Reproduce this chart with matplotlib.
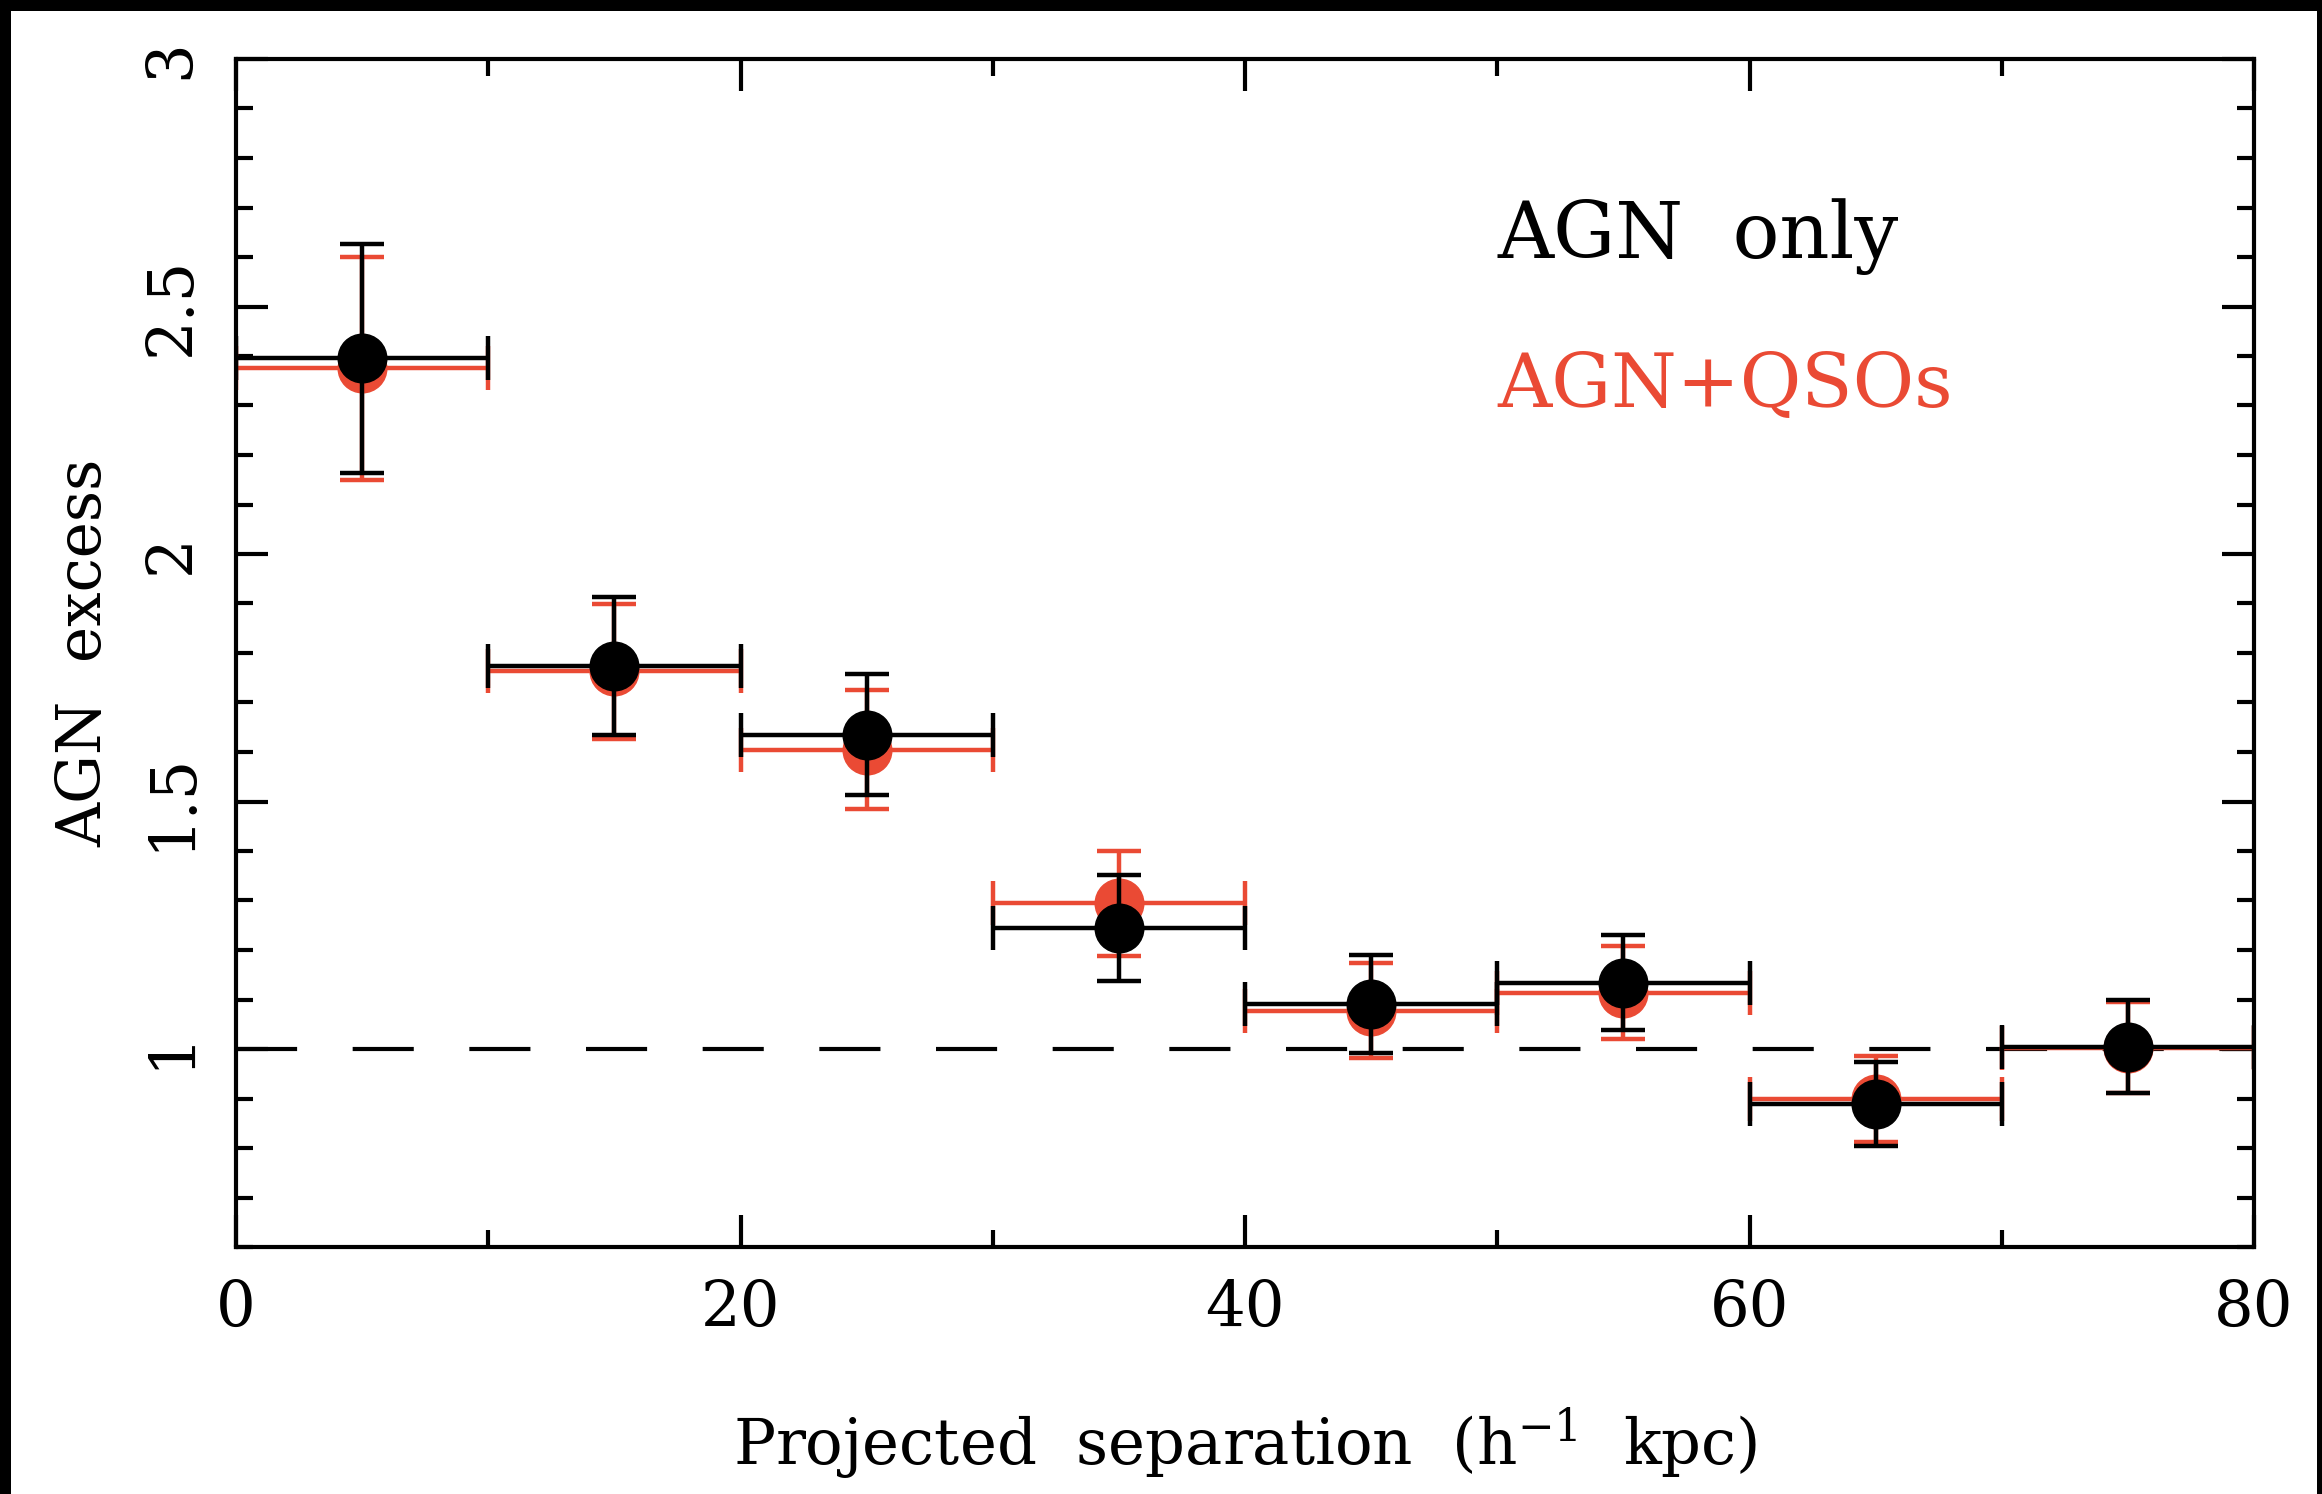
import numpy as np
import matplotlib
matplotlib.use("Agg")
import matplotlib.pyplot as plt
from matplotlib.patches import Rectangle
from matplotlib.ticker import MultipleLocator, FixedLocator, FuncFormatter

# bins of projected separation (h^-1 kpc)
bin_edges = [0, 10, 20, 30, 40, 50, 60, 70, 80]

# AGN only (black)
agn_only = [2.395, 1.774, 1.635, 1.244, 1.091, 1.134, 0.889, 1.005]
agn_only_err = [0.232, 0.140, 0.122, 0.107, 0.099, 0.096, 0.085, 0.093]

# AGN + QSOs (red)
agn_qso = [2.375, 1.763, 1.605, 1.294, 1.077, 1.114, 0.899, 1.003]
agn_qso_err = [0.225, 0.137, 0.120, 0.107, 0.096, 0.094, 0.086, 0.092]

x_ticks = [0, 20, 40, 60, 80]
y_ticks = [1, 1.5, 2, 2.5, 3]

RED = "#EA4A34"
FONT = "DejaVu Serif"

plt.rcParams["font.family"] = FONT
plt.rcParams["mathtext.fontset"] = "dejavuserif"
plt.rcParams["lines.scale_dashes"] = False

edges = np.array(bin_edges, dtype=float)
centers = 0.5 * (edges[:-1] + edges[1:])
half_w = 0.5 * np.diff(edges)

W, H = 2322, 1494
fig = plt.figure(figsize=(W / 100, H / 100), dpi=100, facecolor="black")
# white page inside the black frame
fig.add_artist(Rectangle((11 / W, 0), 1 - 16 / W, 1 - 11 / H,
                         transform=fig.transFigure, facecolor="white",
                         edgecolor="none", zorder=-10))

ax = fig.add_axes([236 / W, 1 - 1247 / H, 2018 / W, 1188 / H])
ax.set_xlim(0, 80)
ax.set_ylim(0.6, 3)

# reference line at 1
ax.axhline(1.0, color="black", lw=3, dashes=(44, 40), zorder=1)

common = dict(fmt="o", ms=35, elinewidth=3.2, capsize=15.5, capthick=3.2)
ax.errorbar(centers, agn_qso, xerr=half_w, yerr=agn_qso_err, color=RED,
            mec=RED, mfc=RED, zorder=2, **common)
ax.errorbar(centers, agn_only, xerr=half_w, yerr=agn_only_err, color="black",
            mec="black", mfc="black", zorder=3, **common)

# axes styling
for s in ax.spines.values():
    s.set_linewidth(3)
ax.xaxis.set_major_locator(FixedLocator(x_ticks))
ax.xaxis.set_minor_locator(MultipleLocator(10))
ax.yaxis.set_major_locator(FixedLocator(y_ticks))
ax.yaxis.set_minor_locator(MultipleLocator(0.1))
ax.yaxis.set_major_formatter(FuncFormatter(lambda v, p: f"{v:g}"))
ax.tick_params(which="both", direction="in", top=True, right=True, width=3)
ax.tick_params(which="major", length=23)
ax.tick_params(which="minor", length=12)
ax.tick_params(axis="x", labelsize=45, pad=23)
ax.tick_params(axis="y", labelsize=45, pad=24, labelrotation=90)
for lab in ax.get_yticklabels():
    lab.set_va("center")

ax.set_xlabel(r"Projected  separation  (h$^{-1}$  kpc)", fontsize=45)
ax.set_ylabel("AGN  excess", fontsize=44)
ax.xaxis.set_label_coords(0.5, -0.133)
ax.yaxis.set_label_coords(-0.0605, 0.5)

ax.text(0.6249, 0.8325, "AGN  only", transform=ax.transAxes, fontsize=56,
        color="black", va="baseline", ha="left")
ax.text(0.6249, 0.7071, "AGN+QSOs", transform=ax.transAxes, fontsize=54,
        color=RED, va="baseline", ha="left")

fig.savefig("out.png", dpi=100, facecolor=fig.get_facecolor())
